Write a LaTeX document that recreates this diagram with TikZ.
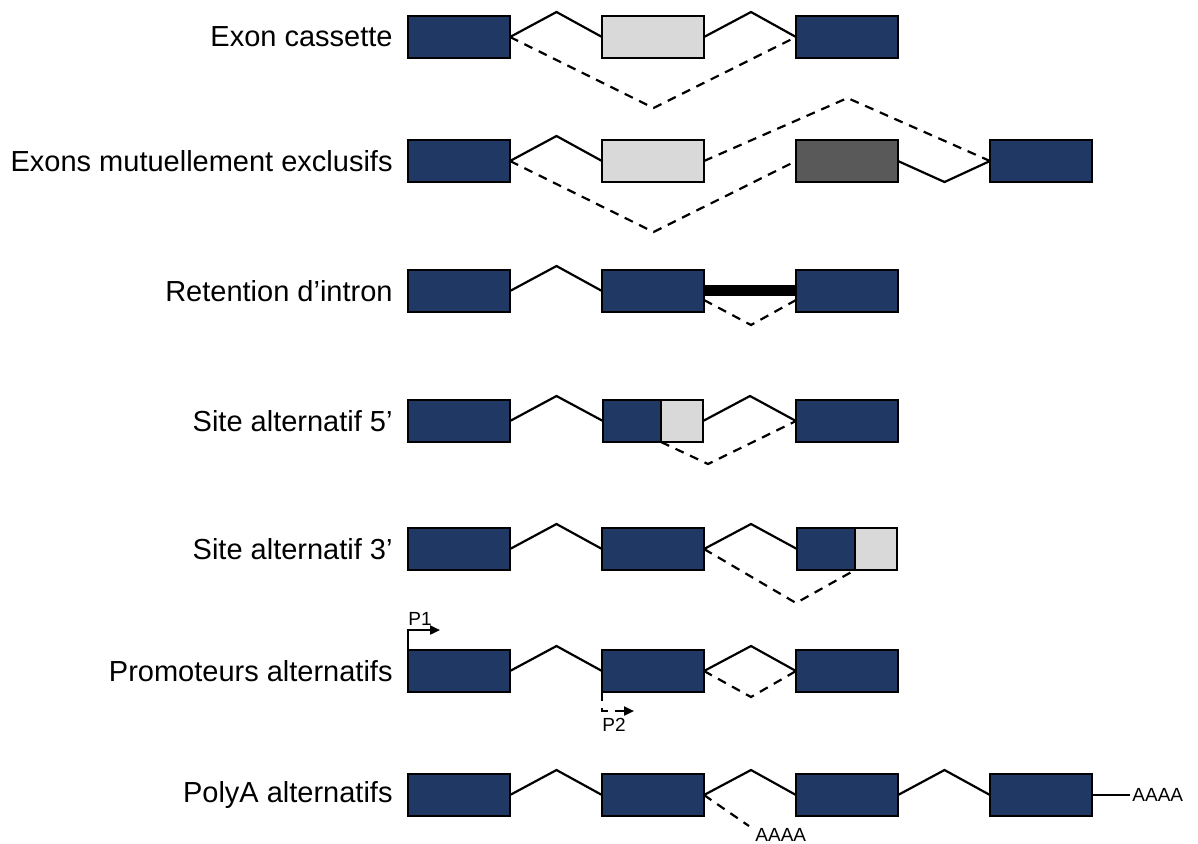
\documentclass[tikz,border=0pt]{standalone}
\usepackage{fontspec}
\setmainfont{Liberation Sans}
\usetikzlibrary{arrows.meta}
\definecolor{exonblue}{HTML}{203864}
\definecolor{exonlight}{HTML}{D9D9D9}
\definecolor{exondark}{HTML}{595959}

\begin{document}
\begin{tikzpicture}[
    x=0.5pt, y=-0.5pt,
    exon/.style={rectangle, draw, line width=1.1pt, fill=exonblue, minimum width=51pt, minimum height=21pt, inner sep=0pt, outer sep=0pt},
    rowname/.style={anchor=east, inner sep=0pt, font=\fontsize{14.5}{16}\selectfont},
    small/.style={inner sep=1pt, font=\fontsize{9.5}{11}\selectfont},
    intron/.style={line width=1.1pt},
    altsplice/.style={line width=1.1pt, dash pattern=on 4.5pt off 3.5pt},
    tip/.style={-{Triangle[length=5pt,width=4.5pt]}}
]
\useasboundingbox (0,0) rectangle (1198,843);

% Row names
\node[rowname] (n1) at (393,37) {Exon cassette};
\node[rowname] (n2) at (393,161) {Exons mutuellement exclusifs};
\node[rowname] (n3) at (393,291) {Retention d’intron};
\node[rowname] (n4) at (393,421) {Site alternatif 5’};
\node[rowname] (n5) at (393,549) {Site alternatif 3’};
\node[rowname] (n6) at (393,671) {Promoteurs alternatifs};
\node[rowname] (n7) at (393,795) {PolyA alternatifs};

% Exon cassette
\node[exon] (a1) at (459,37) {};
\node[exon, fill=exonlight] (a2) at (653,37) {};
\node[exon] (a3) at (847,37) {};
\draw[intron] (a1.east) -- ++(46.5,-25) -- (a2.west);
\draw[intron] (a2.east) -- ++(47,-25) -- (a3.west);
\draw[altsplice] (a1.east) -- ++(143.5,71) -- (a3.west);

% Exons mutuellement exclusifs
\node[exon] (b1) at (459,161) {};
\node[exon, fill=exonlight] (b2) at (653,161) {};
\node[exon, fill=exondark] (b3) at (847,161) {};
\node[exon] (b4) at (1041,161) {};
\draw[intron] (b1.east) -- ++(46.5,-25) -- (b2.west);
\draw[intron] (b3.east) -- ++(46.5,21) -- (b4.west);
\draw[altsplice] (b1.east) -- ++(143.5,71) -- (b3.west);
\draw[altsplice] (b2.east) -- ++(143.5,-63) -- (b4.west);

% Retention d'intron
\node[exon] (c1) at (459,291) {};
\node[exon] (c2) at (653,291) {};
\node[exon] (c3) at (847,291) {};
\draw[intron] (c1.east) -- ++(46.5,-25) -- (c2.west);
\draw[line width=5.5pt] ([yshift=0.5pt]c2.east) -- ([yshift=0.5pt]c3.west);
\draw[altsplice] ([yshift=-4.5pt]c2.east) -- ++(47,25) -- ([yshift=-4.5pt]c3.west);

% Site alternatif 5'
\node[exon] (d1) at (459,421) {};
\node[exon, minimum width=29pt] (d2) at (632,421) {};
\node[exon, fill=exonlight, minimum width=21pt] (d2x) at (682,421) {};
\node[exon] (d3) at (847,421) {};
\draw[intron] (d1.east) -- ++(46.5,-25) -- (d2.west);
\draw[intron] (d2x.east) -- ++(47,-25) -- (d3.west);
\draw[altsplice] (d2.south east) -- ++(47,22) -- (d3.west);

% Site alternatif 3'
\node[exon] (e1) at (459,549) {};
\node[exon] (e2) at (653,549) {};
\node[exon, minimum width=29pt] (e3) at (826,549) {};
\node[exon, fill=exonlight, minimum width=21pt] (e3x) at (876,549) {};
\draw[intron] (e1.east) -- ++(46.5,-25) -- (e2.west);
\draw[intron] (e2.east) -- ++(47,-25) -- (e3.west);
\draw[altsplice] (e2.east) -- ++(92,54) -- (e3.south east);

% Promoteurs alternatifs
\node[exon] (f1) at (459,671) {};
\node[exon] (f2) at (653,671) {};
\node[exon] (f3) at (847,671) {};
\draw[intron] (f1.east) -- ++(46.5,-25) -- (f2.west);
\draw[intron] (f2.east) -- ++(47,-25) -- (f3.west);
\draw[altsplice] (f2.east) -- ++(47,26) -- (f3.west);
\draw[intron, tip] (f1.north west) -- ++(0,-20) coordinate (p1) -- ++(32,0);
\node[small, anchor=south west] (p1lab) at ([xshift=-1pt,yshift=1pt]p1) {P1};
\draw[altsplice, tip] (f2.south west) -- ++(0,19) coordinate (p2) -- ++(32,0);
\node[small, anchor=north west] (p2lab) at ([xshift=-1pt,yshift=-2.5pt]p2) {P2};

% PolyA alternatifs
\node[exon] (g1) at (459,795) {};
\node[exon] (g2) at (653,795) {};
\node[exon] (g3) at (847,795) {};
\node[exon] (g4) at (1041,795) {};
\draw[intron] (g1.east) -- ++(46.5,-25) -- (g2.west);
\draw[intron] (g2.east) -- ++(47,-25) -- (g3.west);
\draw[intron] (g3.east) -- ++(46.5,-25) -- (g4.west);
\draw[altsplice] (g2.east) -- ++(45,31) coordinate (pa1);
\node[small, anchor=north west] (aaaa1) at ([xshift=2pt]pa1) {AAAA};
\draw[intron] (g4.east) -- ++(38,0) coordinate (pa2);
\node[small, anchor=west] (aaaa2) at (pa2) {AAAA};
\end{tikzpicture}
\end{document}
